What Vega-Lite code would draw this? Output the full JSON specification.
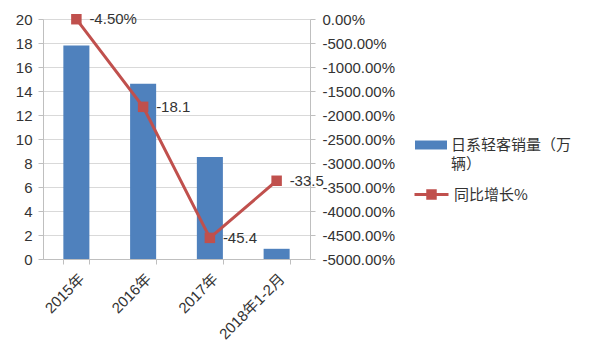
{
  "$schema": "https://vega.github.io/schema/vega-lite/v6.json",
  "width": 267,
  "height": 240,
  "autosize": {"type": "none"},
  "padding": {"left": 43, "top": 19, "right": 290, "bottom": 100},
  "background": "white",
  "config": {
    "view": {"stroke": null},
    "font": "Liberation Sans",
    "axis": {
      "labelFont": "Liberation Sans, Noto Sans CJK SC",
      "labelFontSize": 15,
      "labelColor": "#333333",
      "domainColor": "#BFBFBF",
      "tickColor": "#BFBFBF",
      "gridColor": "#D9D9D9",
      "tickSize": 5,
      "title": null
    }
  },
  "data": {
    "values": [
      {"period": "2015年", "sales": 17.8, "growth": -4.5, "label": "-4.50%"},
      {"period": "2016年", "sales": 14.6, "growth": -1830, "label": "-18.1"},
      {"period": "2017年", "sales": 8.5, "growth": -4560, "label": "-45.4"},
      {"period": "2018年1-2月", "sales": 0.85, "growth": -3370, "label": "-33.5"}
    ]
  },
  "encoding": {
    "x": {
      "field": "period",
      "type": "nominal",
      "sort": null,
      "scale": {"paddingInner": 0.61, "paddingOuter": 0.305},
      "axis": {"labelAngle": -45, "tickBand": "extent", "labelPadding": 7, "grid": false}
    }
  },
  "layer": [
    {
      "mark": {"type": "bar"},
      "encoding": {
        "y": {
          "field": "sales",
          "type": "quantitative",
          "scale": {"domain": [0, 20]},
          "axis": {"values": [0, 2, 4, 6, 8, 10, 12, 14, 16, 18, 20], "grid": true, "labelPadding": 6}
        },
        "fill": {
          "datum": "日系轻客销量（万辆）",
          "type": "nominal",
          "scale": {"range": ["#4F81BD"]},
          "legend": {
            "orient": "none",
            "legendX": 372,
            "legendY": 110,
            "title": null,
            "symbolType": "M-1,-0.28H1V0.28H-1Z",
            "symbolSize": 1024,
            "symbolStrokeWidth": 0,
            "labelFont": "Noto Sans CJK SC",
            "labelFontSize": 15,
            "labelColor": "#333333",
            "labelOffset": 4,
            "labelExpr": "['日系轻客销量（万', '辆）']",
            "encode": {"labels": {"update": {"lineHeight": {"value": 19}}}}
          }
        }
      }
    },
    {
      "layer": [
        {
          "mark": {"type": "line", "strokeWidth": 3},
          "encoding": {
            "stroke": {
              "datum": "同比增长%",
              "type": "nominal",
              "scale": {"range": ["#C0504D"]},
              "legend": {
                "orient": "none",
                "legendX": 370,
                "legendY": 157,
                "title": null,
                "symbolType": "M-1,0H1M-0.22,-0.22H0.22V0.22H-0.22Z",
                "symbolSize": 1156,
                "symbolStrokeWidth": 3,
                "symbolFillColor": "#C0504D",
                "labelFont": "Noto Sans CJK SC",
                "labelFontSize": 15,
                "labelColor": "#333333",
                "labelOffset": 4
              }
            }
          }
        },
        {
          "mark": {"type": "point", "shape": "square", "filled": true, "size": 110, "color": "#C0504D", "opacity": 1}
        },
        {
          "mark": {"type": "text", "align": "left", "baseline": "middle", "dx": 13, "fontSize": 15, "font": "Liberation Sans", "color": "#333333"},
          "encoding": {"text": {"field": "label"}}
        }
      ],
      "encoding": {
        "y": {
          "field": "growth",
          "type": "quantitative",
          "scale": {"domain": [-5000, 0]},
          "axis": {
            "orient": "right",
            "grid": false,
            "values": [-5000, -4500, -4000, -3500, -3000, -2500, -2000, -1500, -1000, -500, 0],
            "labelExpr": "(datum.value < 0 ? '-' : '') + format(abs(datum.value), '.2f') + '%'",
            "labelPadding": 7
          }
        }
      }
    }
  ],
  "resolve": {"scale": {"y": "independent", "fill": "independent", "stroke": "independent"}}
}
